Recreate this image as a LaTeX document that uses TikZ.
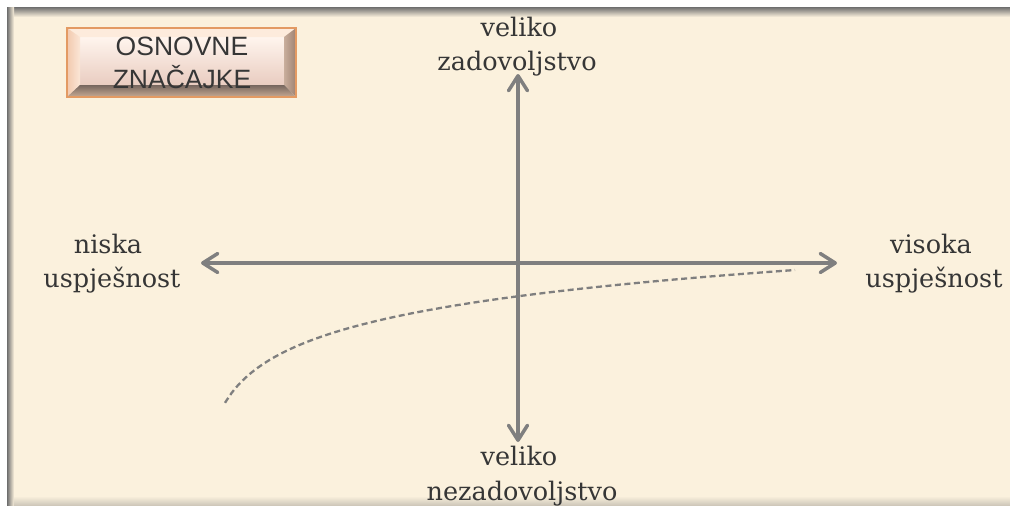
\documentclass[tikz,border=0pt]{standalone}
\usepackage{fontspec}
\setmainfont{DejaVu Serif}
\newfontfamily\btnfont{Liberation Sans}
\usetikzlibrary{arrows.meta}
\definecolor{bg}{HTML}{FBF1DD}
\definecolor{shadowgray}{HTML}{6E6E6E}
\definecolor{axisgray}{HTML}{7F7F7F}
\definecolor{txtgray}{HTML}{363636}
\definecolor{btnborder}{HTML}{E39A63}
\definecolor{btntop}{HTML}{FDEBDC}
\definecolor{btnface1}{HTML}{FFF5EE}
\definecolor{btnface2}{HTML}{E9CCC0}
\definecolor{btnleft1}{HTML}{F2C9AE}
\definecolor{btnleft2}{HTML}{FBE6D6}
\definecolor{btnright1}{HTML}{C9AE9C}
\definecolor{btnright2}{HTML}{9E8272}
\definecolor{btnbot1}{HTML}{76665E}
\definecolor{btnbot2}{HTML}{C8AA94}
\begin{document}
\begin{tikzpicture}[x=1pt,y=-1pt,
  lbl/.style={anchor=base, inner sep=0pt, font=\fontsize{25.5}{30}\selectfont, text=txtgray},
  btntext/.style={anchor=base, inner sep=0pt, font=\btnfont\fontsize{26.5}{30}\selectfont, text=txtgray},
  axisline/.style={draw=axisgray, line width=3.5pt,
    {Straight Barb[length=15pt,width=19pt,round]}-{Straight Barb[length=15pt,width=19pt,round]}},
  curveline/.style={draw=axisgray, line width=2.3pt, dash pattern=on 6pt off 3.5pt}]
% canvas
\useasboundingbox (0,0) rectangle (1010,506);
\fill[white] (0,0) rectangle (1010,506);
\fill[bg] (7,7) rectangle (1010,506);
% inner shadows
\shade[top color=shadowgray, bottom color=bg] (7,7) rectangle (1010,17);
\shade[left color=shadowgray, right color=bg] (7,7) rectangle (14,506);
\shade[top color=bg, bottom color=bg!65!shadowgray] (14,496) rectangle (1010,506);
% button
\shade[top color=btnface1, bottom color=btnface2] (80,37) rectangle (284,85);
\fill[btntop] (67,28) -- (296,28) -- (284,37) -- (80,37) -- cycle;
\shade[left color=btnleft1, right color=btnleft2] (67,28) -- (80,37) -- (80,85) -- (67,97) -- cycle;
\shade[left color=btnright1, right color=btnright2] (296,28) -- (284,37) -- (284,85) -- (296,97) -- cycle;
\shade[top color=btnbot1, bottom color=btnbot2] (67,97) -- (80,85) -- (284,85) -- (296,97) -- cycle;
\draw[btnborder, line width=1.5pt] (67,28) rectangle (296,97);
\node[btntext] (btn1) at (182,55) {OSNOVNE};
\node[btntext] (btn2) at (182,88) {ZNAČAJKE};
% axes
\coordinate (L) at (201,263);
\coordinate (R) at (837,263);
\coordinate (T) at (518,74);
\coordinate (B) at (518,442);
\draw[axisline] (L) -- (R);
\draw[axisline] (B) -- (T);
% dashed curve
\draw[curveline] plot[domain=225:795, samples=90, smooth] (\x, {537.7-41.9*ln(\x-200)});
% labels
\node[lbl] (t1) at (519,36) {veliko};
\node[lbl] (t2) at (517,70) {zadovoljstvo};
\node[lbl] (l1) at (108,253) {niska};
\node[lbl] (l2) at (112,287) {uspješnost};
\node[lbl] (r1) at (931,253) {visoka};
\node[lbl] (r2) at (934,287) {uspješnost};
\node[lbl] (b1) at (519,465) {veliko};
\node[lbl] (b2) at (522,500) {nezadovoljstvo};
\end{tikzpicture}
\end{document}
